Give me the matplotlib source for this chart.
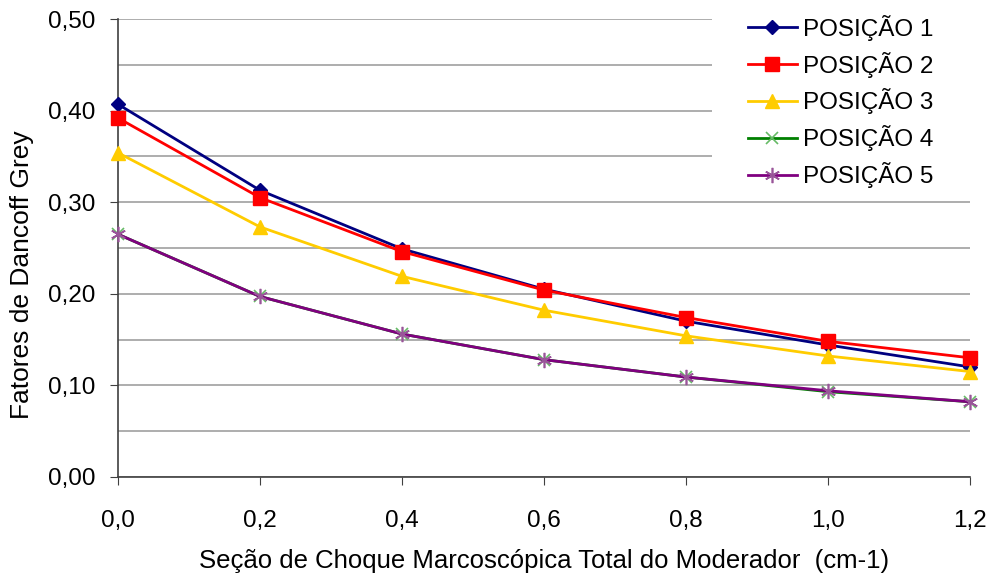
import matplotlib
matplotlib.use("Agg")
import matplotlib.pyplot as plt
from matplotlib.patches import Rectangle
from matplotlib.ticker import FuncFormatter, MultipleLocator

plt.rcParams['font.family'] = ['Liberation Sans', 'DejaVu Sans']

secao = [0.0, 0.2, 0.4, 0.6, 0.8, 1.0, 1.2]
posicao_1 = [0.407, 0.313, 0.249, 0.205, 0.170, 0.144, 0.120]
posicao_2 = [0.392, 0.305, 0.246, 0.204, 0.174, 0.148, 0.130]
posicao_3 = [0.354, 0.273, 0.219, 0.182, 0.154, 0.132, 0.115]
posicao_4 = [0.265, 0.197, 0.156, 0.128, 0.109, 0.093, 0.082]
posicao_5 = [0.265, 0.197, 0.156, 0.128, 0.109, 0.094, 0.082]
nomes = ["POSIÇÃO 1", "POSIÇÃO 2", "POSIÇÃO 3", "POSIÇÃO 4", "POSIÇÃO 5"]

fig = plt.figure(figsize=(9.91, 5.78), dpi=100)
ax = fig.add_axes([0.119, 0.175, 0.860, 0.792])

estilos = [
    dict(color="#000080", marker="D", markersize=7, mfc="#000080", mec="#000080"),
    dict(color="#FF0000", marker="s", markersize=10, mfc="#FF0000", mec="#FF0000"),
    dict(color="#FFCC00", marker="^", markersize=10, mfc="#FFCC00", mec="#FFCC00"),
    dict(color="#008000", marker="x", markersize=9, mfc="none", mec="#66BB66", mew=1.2),
    dict(color="#800080", marker=(6, 2, 0), markersize=11, mfc="none", mec="#995599", mew=1.2),
]
series = [posicao_1, posicao_2, posicao_3, posicao_4, posicao_5]
for nome, ys, st in zip(nomes, series, estilos):
    ax.plot(secao, ys, lw=2, label=nome, clip_on=False, zorder=3, **st)

ax.set_xlim(0, 1.2)
ax.set_ylim(0, 0.5)
ax.xaxis.set_major_locator(MultipleLocator(0.2))
ax.yaxis.set_major_locator(MultipleLocator(0.1))
ax.yaxis.set_minor_locator(MultipleLocator(0.05))
fmt1 = FuncFormatter(lambda v, p: f"{v:.1f}".replace(".", ","))
fmt2 = FuncFormatter(lambda v, p: f"{v:.2f}".replace(".", ","))
ax.xaxis.set_major_formatter(fmt1)
ax.yaxis.set_major_formatter(fmt2)

ax.grid(axis="y", which="both", color="#A0A0A0", lw=1.2, zorder=0)
ax.set_axisbelow(True)
for s in ["top", "right"]:
    ax.spines[s].set_visible(False)
for s in ["left", "bottom"]:
    ax.spines[s].set_color("#404040")
    ax.spines[s].set_linewidth(1.2)
ax.tick_params(axis="both", which="major", direction="out", length=6, color="#404040",
               labelsize=17.5)
ax.tick_params(axis="x", which="major", pad=18)
ax.tick_params(axis="y", which="major", pad=10)
ax.tick_params(axis="y", which="minor", length=0)

ax.set_xlabel("Seção de Choque Marcoscópica Total do Moderador  (cm-1)", fontsize=18.5, va="top")
ax.xaxis.set_label_coords(0.5, -0.157)
ax.set_ylabel("Fatores de Dancoff Grey", fontsize=19)
ax.yaxis.set_label_coords(-0.098, 0.441)

# white panel behind the legend, hiding the grid in the upper-right corner
ax.add_patch(Rectangle((0.697, 0.61), 0.31, 0.40, transform=ax.transAxes,
                       facecolor="white", edgecolor="none", zorder=1, clip_on=False))

leg = ax.legend(loc="upper left", bbox_to_anchor=(0.728, 1.031), frameon=False, fontsize=17.5,
                handlelength=2.0, labelspacing=0.45, handletextpad=0.25, borderpad=0.4,
                borderaxespad=0.0)

fig.savefig("out.png", dpi=100)
